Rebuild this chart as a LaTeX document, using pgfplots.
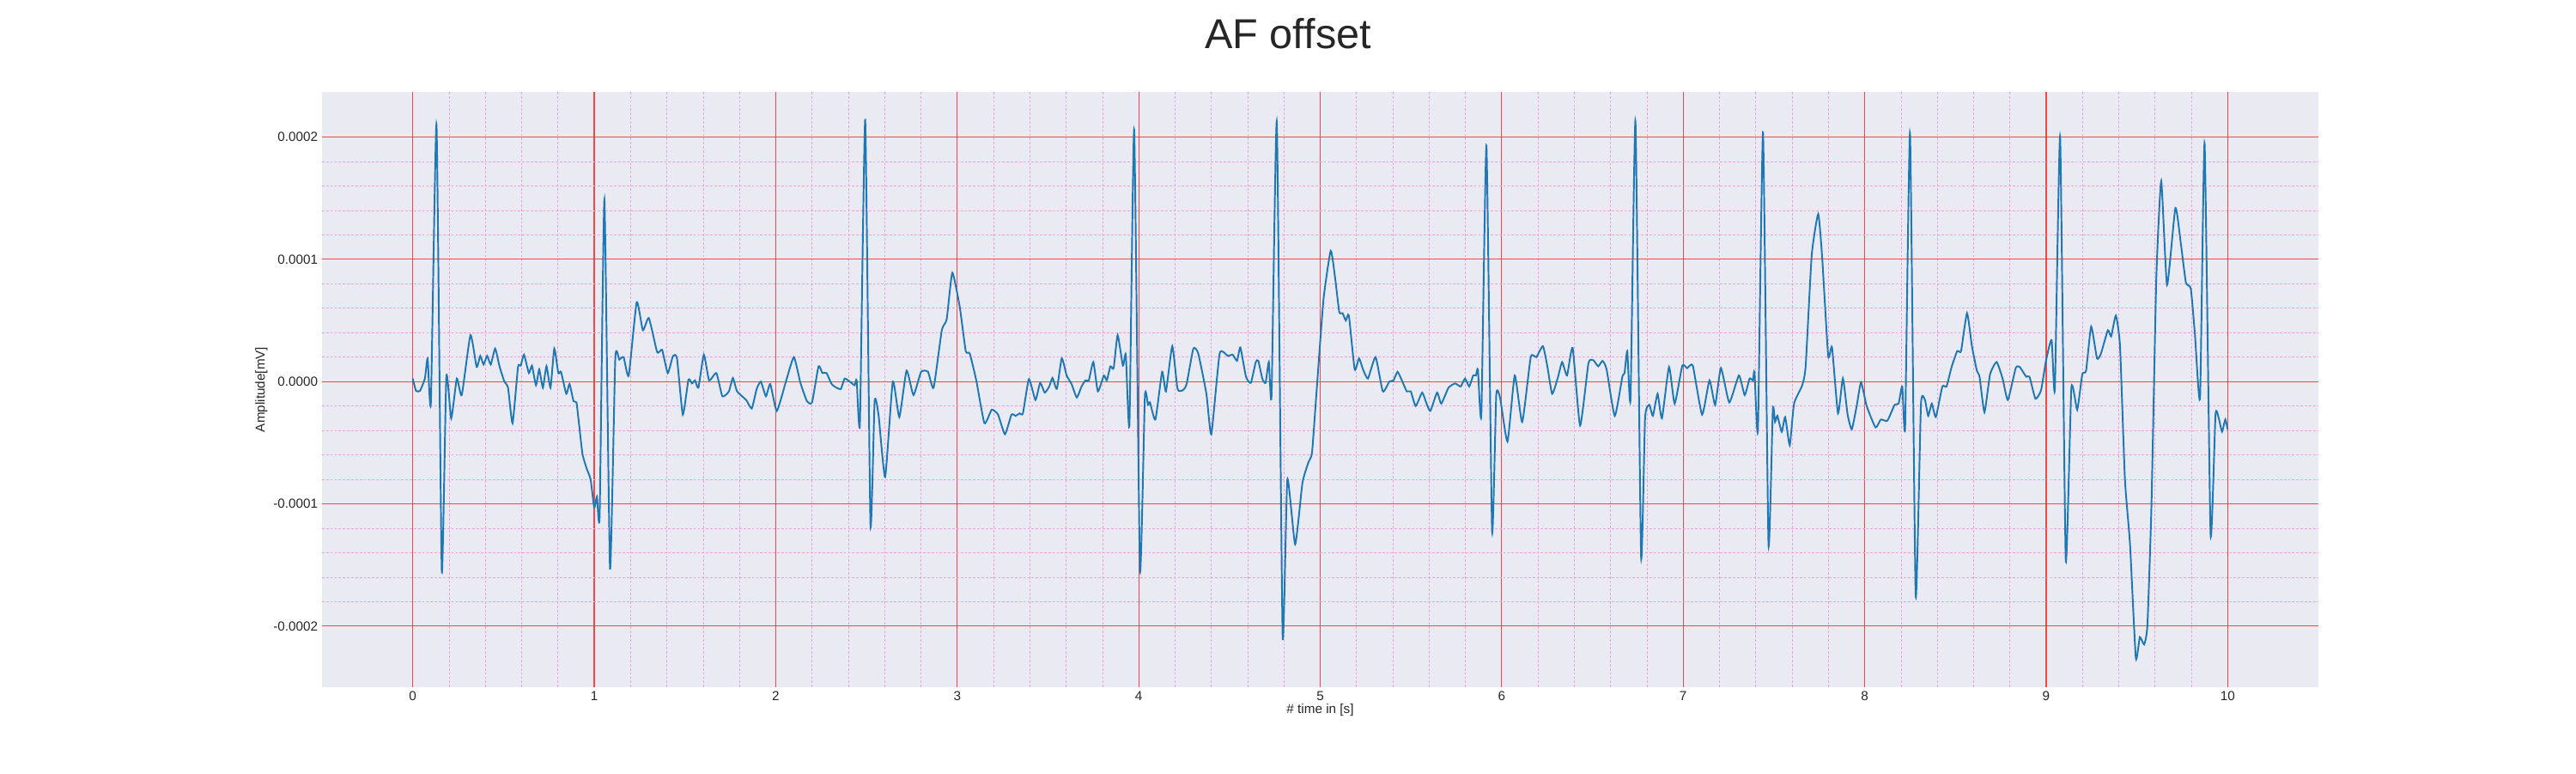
\documentclass[border=0pt]{standalone}
\usepackage{pgfplots}
\pgfplotsset{compat=1.18}
\usepackage{fontspec}
\setmainfont{Liberation Sans}
\definecolor{bg}{HTML}{EAEAF2}
\definecolor{sig}{HTML}{1F77B4}
\definecolor{majg}{HTML}{F04848}
\definecolor{ming}{HTML}{EAA0D8}
\begin{document}
\begin{tikzpicture}
\path[use as bounding box] (-270pt,-72pt) rectangle (1890pt,576pt);
\node[font=\fontsize{35}{40}\selectfont, text=black!85] at (810pt,548pt) {AF offset};
\begin{axis}[
  at={(0,0)}, anchor=south west, scale only axis,
  width=1674pt, height=499pt,
  xmin=-0.5, xmax=10.5, ymin=-2.5, ymax=2.37,
  axis background/.style={fill=bg},
  axis line style={draw=none},
  major tick length=0pt, minor tick length=0pt,
  xtick={0,1,...,10},
  ytick={-2,-1,0,1,2},
  yticklabels={-0.0002,-0.0001,0.0000,0.0001,0.0002},
  minor x tick num=4, minor y tick num=4,
  grid=both,
  major grid style={majg, line width=0.8pt},
  minor grid style={ming, line width=0.5pt, dash pattern=on 2pt off 1.5pt},
  /pgf/number format/assume math mode=true,
  tick label style={font=\fontsize{11}{13}\selectfont, text=black!85},
  xlabel={\# time in [s]}, ylabel={Amplitude[mV]},
  label style={font=\fontsize{11}{13}\selectfont, text=black!85},
  xlabel style={yshift=4pt}, ylabel style={yshift=-2pt},
  clip=true,
]
\addplot[sig, line width=1.4pt, smooth, tension=0.3] coordinates {
(0,.025)(.018,-.075)(.04,-.075)(.067,.025)(.082,.19)(.1,-.17)(.131,2.1)(.16,-1.55)(.185,.04)(.212,-.30)(.243,.025)(.27,-.11)(.318,.38)(.352,.12)(.372,.21)(.39,.14)(.41,.21)(.43,.14)(.454,.27)(.479,.12)(.505,0)(.525,-.05)(.55,-.34)(.58,.12)(.595,.13)(.613,.22)(.64,.07)(.657,.13)(.679,-.03)(.697,.10)(.717,-.05)(.737,.125)(.759,-.05)(.78,.27)(.802,.07)(.817,.08)(.846,-.10)(.864,-.02)(.886,-.16)(.902,-.17)(.915,-.33)(.935,-.59)(.958,-.71)(.98,-.80)(1.0,-1.03)(1.015,-.94)(1.03,-1.09)(1.056,1.49)(1.087,-1.53)(1.116,.19)(1.138,.18)(1.162,.20)(1.19,.05)(1.234,.65)(1.268,.42)(1.301,.52)(1.347,.24)(1.374,.26)(1.405,.07)(1.434,.21)(1.456,.19)(1.488,-.27)(1.519,.015)(1.539,-.015)(1.555,.01)(1.574,-.05)(1.604,.22)(1.633,.01)(1.673,.07)(1.706,-.12)(1.742,-.08)(1.764,.03)(1.787,-.08)(1.837,-.15)(1.868,-.22)(1.895,-.06)(1.918,0)(1.946,-.12)(1.97,-.02)(2.006,-.24)(2.058,.01)(2.1,.20)(2.136,-.01)(2.172,-.16)(2.2,-.17)(2.236,.125)(2.257,.07)(2.28,.07)(2.308,-.02)(2.335,-.05)(2.359,-.06)(2.38,.025)(2.413,-.006)(2.435,-.03)(2.446,.01)(2.464,-.34)(2.493,2.14)(2.522,-1.17)(2.545,-.16)(2.567,-.28)(2.603,-.78)(2.645,0)(2.681,-.29)(2.721,.09)(2.759,-.11)(2.801,.08)(2.839,.08)(2.87,-.05)(2.915,.42)(2.942,.51)(2.973,.89)(3.014,.61)(3.047,.25)(3.069,.23)(3.105,.01)(3.15,-.34)(3.19,-.23)(3.225,-.27)(3.263,-.43)(3.299,-.27)(3.322,-.28)(3.344,-.26)(3.362,-.26)(3.395,.02)(3.431,-.15)(3.457,-.01)(3.482,-.09)(3.507,-.04)(3.525,.03)(3.549,-.06)(3.576,.19)(3.603,.05)(3.63,-.02)(3.659,-.13)(3.685,-.04)(3.707,.01)(3.725,.01)(3.75,.16)(3.775,-.08)(3.808,.05)(3.824,.01)(3.844,.125)(3.862,.11)(3.884,.38)(3.913,.13)(3.929,.22)(3.949,-.35)(3.975,2.06)(4.007,-1.54)(4.034,-.12)(4.051,-.19)(4.062,-.17)(4.092,-.31)(4.129,.08)(4.15,-.08)(4.185,.29)(4.214,-.06)(4.243,-.07)(4.264,-.02)(4.301,.27)(4.328,.23)(4.373,-.10)(4.4,-.43)(4.446,.23)(4.491,.21)(4.518,.22)(4.542,.17)(4.56,.28)(4.591,.04)(4.618,-.01)(4.645,.16)(4.659,.17)(4.681,.025)(4.699,-.01)(4.717,.16)(4.732,-.11)(4.761,2.12)(4.793,-2.08)(4.819,-.80)(4.862,-1.33)(4.902,-.83)(4.935,-.66)(4.955,-.58)(4.98,-.08)(5.018,.67)(5.058,1.07)(5.082,.85)(5.105,.57)(5.123,.56)(5.141,.50)(5.158,.54)(5.19,.10)(5.214,.19)(5.236,.10)(5.263,.025)(5.305,.20)(5.345,-.08)(5.381,0)(5.404,.01)(5.426,.08)(5.45,.01)(5.477,-.08)(5.499,-.08)(5.526,-.20)(5.562,-.09)(5.586,-.18)(5.607,-.24)(5.644,-.09)(5.667,-.18)(5.707,-.05)(5.743,-.015)(5.774,-.04)(5.798,.025)(5.821,-.04)(5.843,.05)(5.858,.05)(5.869,.10)(5.888,-.27)(5.916,1.93)(5.947,-1.22)(5.97,-.11)(5.992,-.14)(6.032,-.49)(6.072,.05)(6.113,-.33)(6.16,.20)(6.191,.20)(6.227,.29)(6.251,.13)(6.278,-.10)(6.309,.03)(6.333,.16)(6.36,.05)(6.391,.275)(6.432,-.36)(6.478,.15)(6.505,.175)(6.532,.125)(6.556,.17)(6.578,.10)(6.623,-.28)(6.665,.04)(6.677,.07)(6.692,.25)(6.71,-.14)(6.737,2.13)(6.768,-1.43)(6.79,-.30)(6.813,-.19)(6.833,-.28)(6.859,-.10)(6.883,-.30)(6.922,.12)(6.953,-.18)(6.995,.13)(7.022,.11)(7.053,.13)(7.104,-.27)(7.145,.01)(7.176,-.19)(7.208,.11)(7.254,-.17)(7.307,.05)(7.339,-.11)(7.366,.025)(7.384,.01)(7.393,.08)(7.412,-.39)(7.44,2.04)(7.47,-1.33)(7.494,-.225)(7.506,-.33)(7.519,-.28)(7.543,-.41)(7.562,-.29)(7.587,-.52)(7.611,-.18)(7.656,-.03)(7.675,.13)(7.708,1.03)(7.744,1.37)(7.766,1.01)(7.799,.21)(7.82,.28)(7.853,-.26)(7.88,.025)(7.906,-.27)(7.929,-.39)(7.956,-.20)(7.98,-.006)(8.011,-.20)(8.06,-.375)(8.089,-.31)(8.125,-.32)(8.165,-.19)(8.187,-.18)(8.207,-.04)(8.223,-.37)(8.25,2.03)(8.281,-1.75)(8.31,-.19)(8.332,-.15)(8.35,-.28)(8.37,-.18)(8.392,-.29)(8.428,-.04)(8.451,-.04)(8.479,.12)(8.51,.25)(8.531,.25)(8.564,.56)(8.591,.29)(8.618,.09)(8.633,.04)(8.66,-.25)(8.691,.06)(8.727,.16)(8.76,.025)(8.789,-.15)(8.832,.11)(8.854,.12)(8.89,.04)(8.908,.04)(8.941,-.14)(8.972,-.07)(8.999,.17)(9.03,.34)(9.048,-.06)(9.077,2.0)(9.108,-1.46)(9.139,-.05)(9.171,-.23)(9.199,.06)(9.22,.09)(9.248,.45)(9.28,.19)(9.302,.23)(9.34,.42)(9.358,.37)(9.384,.54)(9.407,.29)(9.434,-.80)(9.462,-1.33)(9.494,-2.26)(9.516,-2.09)(9.54,-2.15)(9.558,-1.99)(9.58,-1.02)(9.607,.85)(9.634,1.64)(9.666,.79)(9.712,1.42)(9.742,1.13)(9.77,.81)(9.797,.76)(9.82,.38)(9.848,-.13)(9.873,1.95)(9.906,-1.25)(9.933,-.27)(9.951,-.30)(9.969,-.41)(9.987,-.31)(10.0,-.39)
};
\end{axis}
\end{tikzpicture}
\end{document}
